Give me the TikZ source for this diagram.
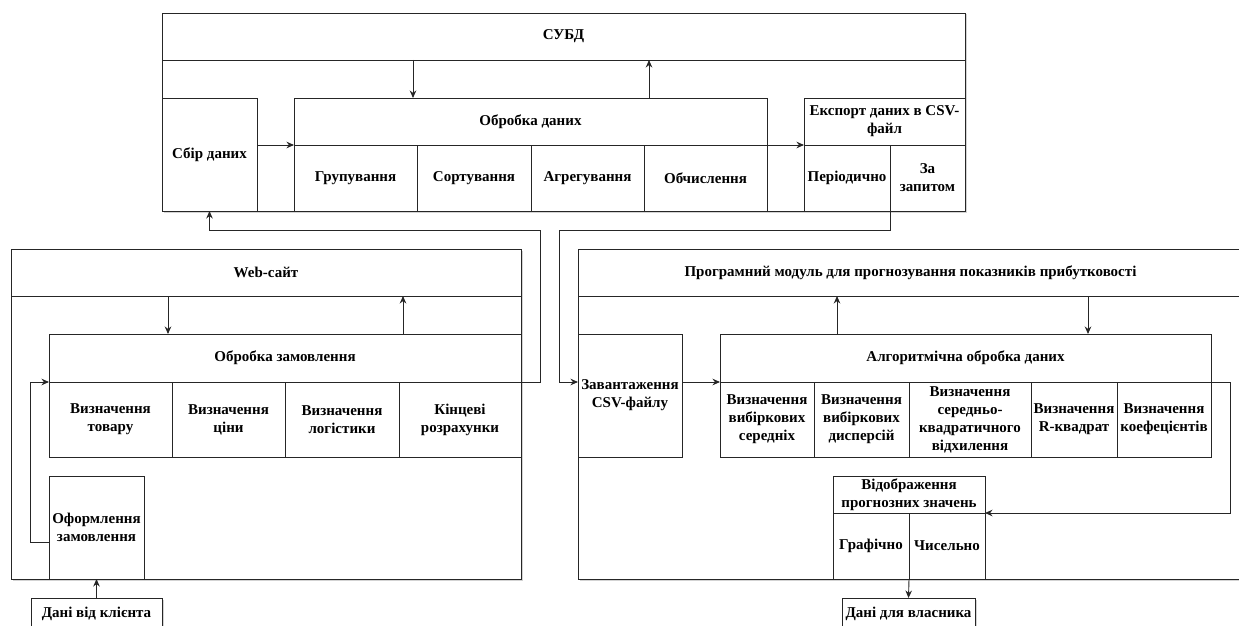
\documentclass[tikz,border=0pt]{standalone}
\usepackage{fontspec}
\setmainfont{Liberation Serif}
\usetikzlibrary{arrows.meta}
\usetikzlibrary{shadows}

\tikzset{
 cell/.style={draw, fill=white, inner sep=0, outer sep=0, align=center, font=\bfseries\fontsize{15}{18}\selectfont},
 frame/.style={cell, drop shadow={shadow xshift=1.5pt, shadow yshift=-1.5pt, opacity=.35}},
 rect/.style args={#1,#2,#3,#4}{at={({(#1+#3)/2},{(#2+#4)/2})}, anchor=center, minimum width={#3-#1}, minimum height={#4-#2}},
}

\begin{document}
\begin{tikzpicture}[x=1pt, y=-1pt, line width=.9pt, draw=black!85, >={Stealth[length=7.5pt, width=6.5pt]}]
\useasboundingbox (0,0) rectangle (1239,626);

\node[frame, rect={162,13,965,211}] (subd) {};
\node[cell, rect={162,13,965,60}] (subdT) {СУБД};
\node[cell, rect={162,98,257,211}] (zbir) {Сбір даних};
\node[cell, rect={294,98,767,145}] (obrD) {Обробка даних};
\foreach \nm/\xa/\xb/\txt in {grup/294/417/Групування, sort/417/531/Сортування, agr/531/644/Агрегування, obch/644/767/Обчислення}
 \node[cell, rect={\xa,145,\xb,211}] (\nm) {\txt};
\node[cell, rect={804,98,965,145}] (eksp) {Експорт даних в CSV-\\файл};
\node[cell, rect={804,145,890,211}] (period) {Періодично};
\node[cell, rect={890,145,965,211}] (zapyt) {За\\запитом};

\node[frame, rect={11,249,521,579}] (web) {};
\node[cell, rect={11,249,521,296}] (webT) {Web-сайт};
\node[cell, rect={49,334,521,382}] (obrZ) {Обробка замовлення};
\foreach \nm/\xa/\xb/\txt in {tov/49/172/{Визначення\\товару}, cin/172/285/{Визначення\\ціни}, log/285/399/{Визначення\\логістики}, kinc/399/521/{Кінцеві\\розрахунки}}
 \node[cell, rect={\xa,382,\xb,457}] (\nm) {\txt};
\node[cell, rect={49,476,144,579}] (oform) {Оформлення\\замовлення};
\node[frame, rect={31,598,162,629}] (klient) {Дані від клієнта};

\node[frame, rect={578,249,1243,579}] (prog) {};
\node[cell, rect={578,249,1243,296}] (progT) {Програмний модуль для прогнозування показників прибутковості};
\node[cell, rect={578,334,682,457}] (zav) {Завантаження\\CSV-файлу};
\node[cell, rect={720,334,1211,382}] (algT) {Алгоритмічна обробка даних};
\foreach \nm/\xa/\xb/\txt in {c1/720/814/{Визначення\\вибіркових\\середніх}, c2/814/909/{Визначення\\вибіркових\\дисперсій}, c3/909/1031/{Визначення\\середньо-\\квадратичного\\відхилення}, c4/1031/1117/{Визначення\\R-квадрат}, c5/1117/1211/{Визначення\\коефецієнтів}}
 \node[cell, rect={\xa,382,\xb,457}] (\nm) {\txt};
\node[cell, rect={833,476,985,513}] (vid) {Відображення\\прогнозних значень};
\node[cell, rect={833,513,909,579}] (graf) {Графічно};
\node[cell, rect={909,513,985,579}] (chys) {Чисельно};
\node[frame, rect={842,598,975,629}] (vlas) {Дані для власника};

\coordinate (d1) at (413,0);
\coordinate (u1) at (649,0);
\draw[->] (subdT.south -| d1) -- (obrD.north -| d1);
\draw[->] (obrD.north -| u1) -- (subdT.south -| u1);
\draw[->] (zbir.east |- grup.north west) -- (grup.north west);
\draw[->] (obch.north east) -- (period.north west);
\coordinate (j1) at (540,230);
\draw[->] (kinc.north east) -| (j1) -| (zbir.south);
\coordinate (j2) at (559,230);
\draw[->] (zapyt.south west) |- (j2) |- (zav.west |- algT.south);

\coordinate (d2) at (168,0);
\coordinate (u2) at (403,0);
\draw[->] (webT.south -| d2) -- (obrZ.north -| d2);
\draw[->] (obrZ.north -| u2) -- (webT.south -| u2);
\coordinate (j3) at (30,382);
\draw[->] ([yshift=-15pt]oform.west) -| (j3) -- (tov.north west);
\draw[->] (klient.north) -- (oform.south);

\coordinate (u3) at (837,0);
\coordinate (d3) at (1088,0);
\draw[->] (algT.north -| u3) -- (progT.south -| u3);
\draw[->] (progT.south -| d3) -- (algT.north -| d3);
\draw[->] (zav.east |- algT.south) -- (c1.north west);
\coordinate (j4) at (1230,513);
\draw[->] (c5.north east) -| (j4) -- (chys.north east);
\draw[->] (graf.south east) -- (vlas.north);
\end{tikzpicture}
\end{document}
